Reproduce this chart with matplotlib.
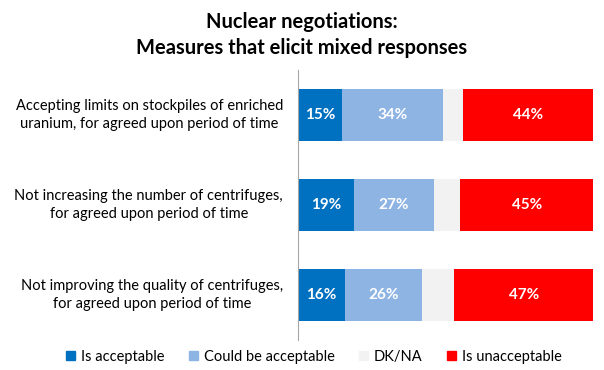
import matplotlib
matplotlib.use("Agg")
import matplotlib.pyplot as plt
import matplotlib.patches as mpatches
import numpy as np

plt.rcParams['font.family'] = ['Lato', 'DejaVu Sans']

# data
measures = [
    "Accepting limits on stockpiles of enriched\nuranium, for agreed upon period of time",
    "Not increasing the number of centrifuges,\nfor agreed upon period of time",
    "Not improving the quality of centrifuges,\nfor agreed upon period of time",
]
series_names = ["Is acceptable", "Could be acceptable", "DK/NA", "Is unacceptable"]
is_acceptable = [15, 19, 16]
could_be_acceptable = [34, 27, 26]
dk_na = [7, 9, 11]
is_unacceptable = [44, 45, 47]

colors = ['#0070C0', '#8EB4E3', '#F2F2F2', '#FF0000']
show_label = [True, True, False, True]

fig = plt.figure(figsize=(6.04, 3.70), dpi=100)
ax = fig.add_axes([298 / 604, 1 - 340 / 370, 295 / 604, 270 / 370])

y = np.arange(len(measures))
left = np.zeros(len(measures))
for name, vals, col, lab in zip(series_names,
                                [is_acceptable, could_be_acceptable, dk_na, is_unacceptable],
                                colors, show_label):
    bars = ax.barh(y, vals, left=left, height=0.57, color=col, label=name)
    if lab:
        for b, v in zip(bars, vals):
            ax.text(b.get_x() + b.get_width() / 2, b.get_y() + b.get_height() / 2,
                    f"{v}%", ha='center', va='center', color='white',
                    fontsize=11, fontweight='bold')
    left += np.array(vals)

ax.set_xlim(0, 100)
ax.set_ylim(len(measures) - 0.5, -0.5)
ax.set_xticks([])
ax.set_yticks([])
for s in ['top', 'right', 'bottom']:
    ax.spines[s].set_visible(False)
ax.spines['left'].set_color('#A6A6A6')

# category labels sit left of the axis, centred between themselves
for yi, m in zip(y, measures):
    ax.annotate(m, xy=(0, yi), xytext=(-15, 0), textcoords='offset pixels',
                ha='right', va='center', multialignment='center',
                fontsize=10.5, linespacing=1.45, annotation_clip=False)

fig.text(0.5, 1 - 35 / 370, "Nuclear negotiations:\nMeasures that elicit mixed responses",
         ha='center', va='center', fontsize=14.5, fontweight='bold', linespacing=1.35)

handles = [mpatches.Patch(color=c, label=n) for c, n in zip(colors, series_names)]
fig.legend(handles=handles, loc='center', bbox_to_anchor=(314 / 604, 1 - 357 / 370),
           ncol=4, frameon=False, fontsize=10.5, handlelength=0.6, handleheight=0.6,
           handletextpad=0.4, columnspacing=1.7)

fig.savefig("out.png", dpi=100)
